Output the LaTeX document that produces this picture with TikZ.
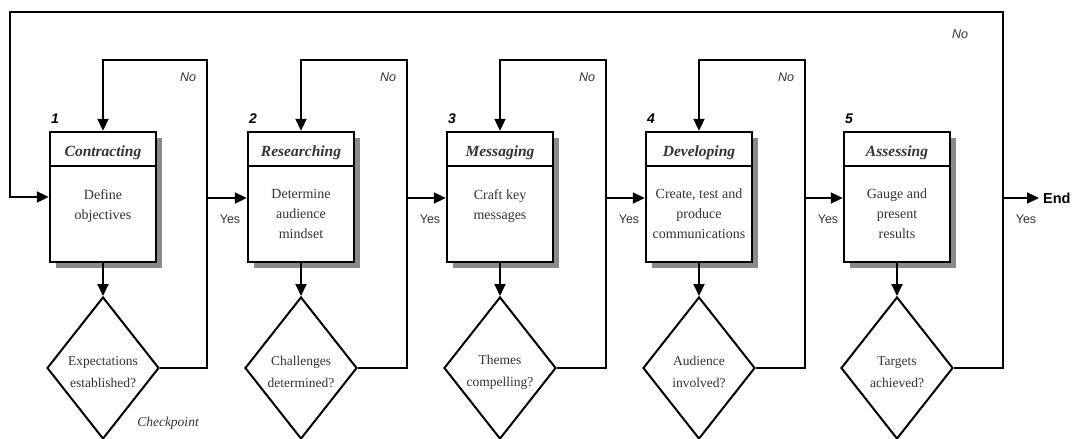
\documentclass[tikz,border=0pt]{standalone}
\usepackage{fontspec}
\setmainfont{Liberation Serif}
\setsansfont{Liberation Sans}
\usetikzlibrary{arrows.meta,shapes.geometric}
\definecolor{txt}{HTML}{333333}
\definecolor{shadowgray}{HTML}{8A8A8A}
\tikzset{
  box/.style={draw, line width=2.4pt, minimum width=106pt, minimum height=130pt, inner sep=0pt, fill=white},
  dec/.style={draw, shape=diamond, line width=2pt, aspect=0.79, minimum width=112pt, minimum height=142pt, inner sep=0pt, fill=white},
  dectxt/.style={text=txt, inner sep=0pt, align=center, font=\fontsize{13.5}{22}\selectfont},
  arr/.style={line width=2pt, -{Triangle[length=12pt,width=11pt]}},
  bodytxt/.style={anchor=north, align=center, text=txt, inner sep=0pt, font=\fontsize{14}{20}\selectfont},
  titletxt/.style={text=txt, inner sep=0pt, font=\fontsize{15.5}{17}\selectfont\bfseries\itshape},
  numtxt/.style={inner sep=0pt, font=\sffamily\fontsize{14}{16}\selectfont\bfseries\itshape},
  yn/.style={inner sep=0pt, text=txt, font=\sffamily\fontsize{12.5}{14}\selectfont},
  nolab/.style={yn, font=\sffamily\itshape\fontsize{12.5}{14}\selectfont},
}
\begin{document}
\begin{tikzpicture}[x=1pt,y=-1pt]
\useasboundingbox (0,0) rectangle (1074,439);
\foreach \i/\cx/\ttl/\bod/\q/\lx in {
  1/103/Contracting/{Define\\objectives}/{Expectations\\established?}/207,
  2/301/Researching/{Determine\\audience\\mindset}/{Challenges\\determined?}/407,
  3/500/Messaging/{Craft key\\messages}/{Themes\\compelling?}/606,
  4/699/Developing/{Create, test and\\produce\\communications}/{Audience\\involved?}/805,
  5/897/Assessing/{Gauge and\\present\\results}/{Targets\\achieved?}/1003}{
  \fill[shadowgray] (\cx-53+6,132+6) rectangle (\cx+53+6,262+6);
  \node[box] (b\i) at (\cx,197) {};
  \draw[line width=1.8pt] (\cx-53,166) coordinate (hl\i) -- (\cx+53,166) coordinate (hr\i);
  \node[titletxt] (t\i) at (\cx,153) {\ttl};
  \node[bodytxt] (x\i) at (\cx,189) {\bod};
  \node[numtxt] (n\i) at (\cx-48,119) {\i};
  \node[dec] (d\i) at (\cx,368) {};
  \node[dectxt] (q\i) at (\cx,372) {\q};
  \draw[arr] (b\i.south) -- (d\i.north);
  \coordinate (j\i) at (\lx,198);
  \node[yn] (y\i) at (\lx+23,219) {Yes};
}
% inner loops
\foreach \i/\lx in {1/207,2/407,3/606,4/805}{
  \coordinate (top\i) at (\lx,60);
  \draw[arr] (d\i.east) -| (top\i) -| (b\i.north);
  \node[nolab] (no\i) at (\lx-19,77) {No};
}
\draw[arr] (j1) -- (j1 -| b2.west);
\draw[arr] (j2) -- (j2 -| b3.west);
\draw[arr] (j3) -- (j3 -| b4.west);
\draw[arr] (j4) -- (j4 -| b5.west);
% outer loop
\coordinate (o1) at (1003,12);
\coordinate (o2) at (10,197);
\draw[arr] (d5.east) -| (o1) -| (o2) -- (b1.west);
\node[nolab] (no5) at (960,34) {No};
\node[anchor=west, inner sep=0pt, font=\sffamily\bfseries\fontsize{14.5}{16}\selectfont] (end) at (1043,198) {End};
\draw[arr, shorten >=4pt] (j5) -- (end.west);
\node[text=txt, inner sep=0pt, font=\itshape\fontsize{13.5}{15}\selectfont] (cp) at (168,423) {Checkpoint};
\end{tikzpicture}
\end{document}
